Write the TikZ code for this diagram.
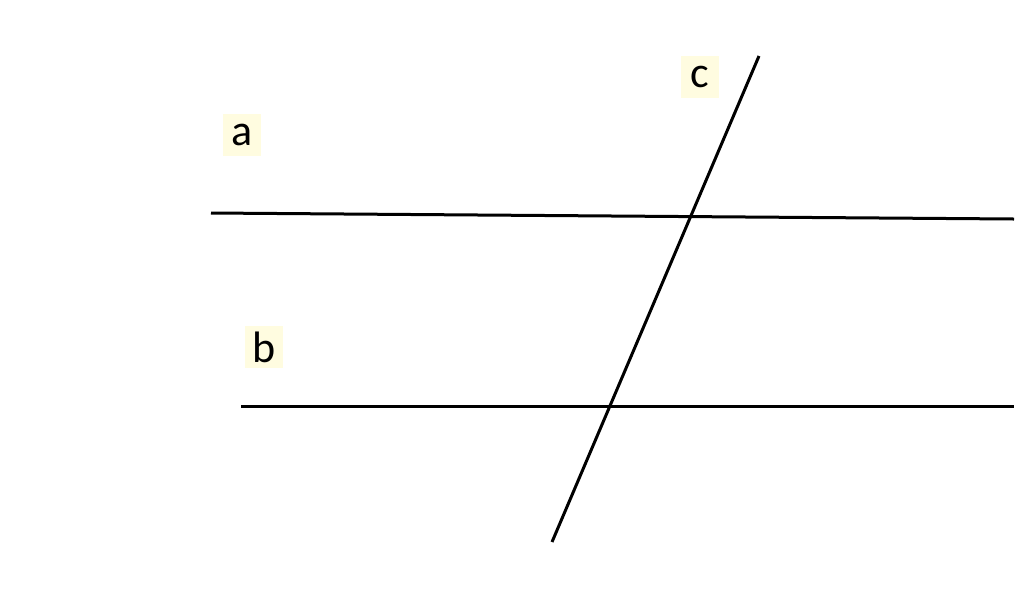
\documentclass[tikz,border=0pt]{standalone}
\usepackage{fontspec}
\setmainfont{Carlito}
\definecolor{labelbg}{HTML}{FFFCE0}
\tikzset{
  line label/.style={fill=labelbg, inner sep=0pt, minimum width=19pt, minimum height=21pt, font=\fontsize{22}{26}\selectfont},
  parallel line/.style={line width=1.5pt}
}
\begin{document}
\begin{tikzpicture}[x=0.5pt, y=-0.5pt]

\useasboundingbox (0,0) rectangle (1024,601);

% the two lines a and b
\coordinate (a-start) at (211,213);
\coordinate (a-end) at (1014,219);
\coordinate (b-start) at (241,406);
\coordinate (b-end) at (1014,406);

% the transversal c
\coordinate (c-start) at (552,542);
\coordinate (c-end) at (759,56);

\draw [parallel line] (a-start) -- (a-end);
\draw [parallel line] (b-start) -- (b-end);
\draw [parallel line] (c-start) -- (c-end);

\foreach \l/\x/\y in {a/242/135, b/264/347, c/700/77}
  \node [line label] (label-\l) at (\x,\y) {\l};

\end{tikzpicture}
\end{document}
